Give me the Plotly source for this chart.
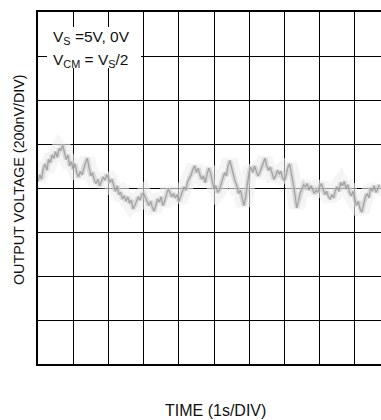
import plotly.graph_objects as go

noise_nv = [
    30, 60, 40, 90, 110, 80, 130, 115, 150, 135, 165, 140, 180, 170, 195, 160, 130, 150, 100, 120,
    85, 110, 70, 50, 75, 60, 95, 115, 135, 90, 55, 70, 35, 20, 40, 10, 30, 50, 35, 60,
    45, 25, 40, 5, -15, 10, -30, -20, -50, -35, -60, -40, -70, -55, -95, -80, -60, -40, -55, -30,
    -25, -45, -65, -80, -60, -90, -105, -75, -50, -65, -40, -80, -60, -30, -5, -20, -40, -25, -45, -30,
    -60, -40, -15, 5, -10, 30, 45, 60, 85, 100, 70, 90, 60, 40, 55, 25, 60, 90, 70, 30,
    -5, 10, -20, -10, 20, 45, 70, 55, 100, 125, 90, 50, 30, 10, -25, -10, -50, -80, -40, 20,
    75, 95, 70, 100, 80, 55, 70, 95, 120, 135, 100, 80, 95, 60, 40, 55, 80, 65, 75, 45,
    35, 60, 95, 110, 70, 20, -30, -90, -60, -20, -5, 15, 5, 20, -10, 10, -5, -25, -10, -20,
    5, 20, -5, -30, -15, -40, -50, -30, -45, -10, 5, -15, 25, 10, 30, -5, 15, -20, -35, -15,
    -50, -80, -60, -95, -110, -70, -40, -25, -45, 0, -15, 10, -20, -5, 15,
]
sample_step_s = 0.05
time_s = [i * sample_step_s for i in range(len(noise_nv))]

x_range = [0, 9.744]     # 1 s/div, right side cut off
y_range = [-800, 800]    # 200 nV/div

L, T, W, H = 38, 12, 343, 352   # plot area in pixels


def px(xp):
    return (xp - L) / W


def py(yp):
    return 1 - (yp - T) / H


fig = go.Figure()
fig.add_trace(go.Scatter(x=time_s, y=noise_nv, mode="lines",
                         line=dict(color="rgba(238,238,238,0.6)", width=16),
                         hoverinfo="skip", showlegend=False))
fig.add_trace(go.Scatter(x=time_s, y=noise_nv, mode="lines",
                         line=dict(color="rgba(200,200,200,0.6)", width=5),
                         hoverinfo="skip", showlegend=False))
fig.add_trace(go.Scatter(x=time_s, y=noise_nv, mode="lines",
                         line=dict(color="rgba(140,140,140,0.7)", width=1.3),
                         showlegend=False))

FONT = "Liberation Sans, Arial, sans-serif"

fig.update_layout(
    width=381, height=420,
    margin=dict(l=L, r=0, t=T, b=420 - T - H),
    paper_bgcolor="white", plot_bgcolor="white",
    font=dict(family=FONT, color="#111111", size=14),
    xaxis=dict(range=x_range, dtick=1, tick0=0, showticklabels=False, ticks="",
               showgrid=True, gridcolor="black", gridwidth=1, zeroline=False,
               showline=True, linecolor="black", linewidth=2, mirror=True,
               fixedrange=True),
    yaxis=dict(range=y_range, dtick=200, tick0=0, showticklabels=False, ticks="",
               showgrid=True, gridcolor="black", gridwidth=1, zeroline=False,
               showline=True, linecolor="black", linewidth=2, mirror=False,
               fixedrange=True),
    shapes=[
        dict(type="rect", xref="paper", yref="paper", x0=px(47), x1=px(141),
             y0=py(68), y1=py(27), fillcolor="white", line=dict(width=0), layer="above"),
    ],
    annotations=[
        dict(text="V<sub>S</sub> =5V, 0V",
             xref="paper", yref="paper", x=px(51), y=py(37),
             xanchor="left", yanchor="middle", align="left", showarrow=False,
             font=dict(size=15.5)),
        dict(text="V<sub>CM</sub> = V<sub>S</sub>/2",
             xref="paper", yref="paper", x=px(51), y=py(60),
             xanchor="left", yanchor="middle", align="left", showarrow=False,
             font=dict(size=15.5)),
        dict(text="OUTPUT VOLTAGE (200nV/DIV)", xref="paper", yref="paper",
             x=px(19), y=py(180), xanchor="center", yanchor="middle",
             textangle=-90, showarrow=False, font=dict(size=14.3)),
        dict(text="TIME (1s/DIV)", xref="paper", yref="paper",
             x=px(215), y=py(410), xanchor="center", yanchor="middle",
             showarrow=False, font=dict(size=16)),
    ],
)

fig.write_html("out.html")
